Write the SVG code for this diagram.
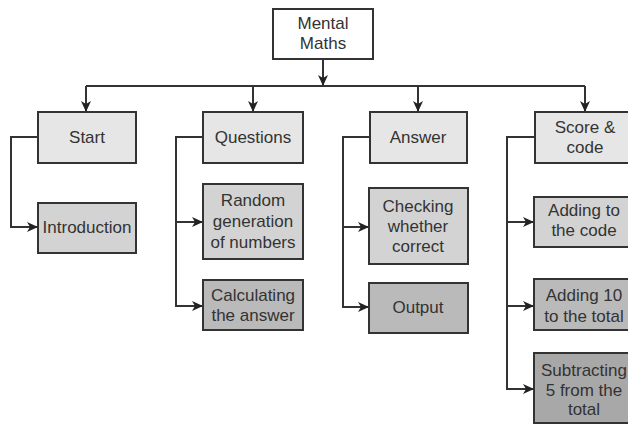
<svg xmlns="http://www.w3.org/2000/svg" width="628" height="424" viewBox="0 0 628 424">
<style>
.box{stroke:#333;stroke-width:2}
.l0{fill:#ffffff}
.l1{fill:#e6e6e6}
.l2{fill:#d3d3d3}
.l3{fill:#bababa}
.l4{fill:#a8a8a8}
text{font-family:"Liberation Sans",Arial,sans-serif;font-size:17px;fill:#333;text-anchor:middle}
.c{fill:none;stroke:#333;stroke-width:2}
</style>
<defs>
<marker id="ah" markerWidth="11" markerHeight="10" refX="10" refY="5" orient="auto" markerUnits="userSpaceOnUse">
<path d="M0,0 L11,5 L0,10 L3,5 z" fill="#222"/>
</marker>
</defs>
<rect width="628" height="424" fill="#fff"/>
<g id="connectors">
<path class="c" d="M323,59 V85" marker-end="url(#ah)"/>
<path class="c" d="M86,86 H585"/>
<path class="c" d="M86,86 V111" marker-end="url(#ah)"/>
<path class="c" d="M253,86 V111" marker-end="url(#ah)"/>
<path class="c" d="M418,86 V111" marker-end="url(#ah)"/>
<path class="c" d="M585,86 V111" marker-end="url(#ah)"/>
<path class="c" d="M38,137 H11 V227 H37" marker-end="url(#ah)"/>
<path class="c" d="M203,137 H176 V306 H202" marker-end="url(#ah)"/>
<path class="c" d="M176,222 H202" marker-end="url(#ah)"/>
<path class="c" d="M370,137 H343 V307 H368" marker-end="url(#ah)"/>
<path class="c" d="M343,227 H368" marker-end="url(#ah)"/>
<path class="c" d="M535,137 H507 V389 H533" marker-end="url(#ah)"/>
<path class="c" d="M507,222 H533" marker-end="url(#ah)"/>
<path class="c" d="M507,306 H533" marker-end="url(#ah)"/>
</g>
<g id="mental-maths"><rect class="box l0" x="273" y="9" width="100" height="50"/><text x="323" y="29">Mental</text><text x="323" y="49">Maths</text></g>
<g id="start"><rect class="box l1" x="38" y="112" width="98" height="51"/><text x="87" y="143">Start</text></g>
<g id="questions"><rect class="box l1" x="203" y="112" width="100" height="51"/><text x="253" y="143">Questions</text></g>
<g id="answer"><rect class="box l1" x="370" y="112" width="97" height="51"/><text x="418" y="143">Answer</text></g>
<g id="score-code"><rect class="box l1" x="535" y="112" width="100" height="51"/><text x="585" y="133">Score &amp;</text><text x="585" y="153">code</text></g>
<g id="introduction"><rect class="box l2" x="38" y="203" width="98" height="50"/><text x="87" y="233">Introduction</text></g>
<g id="random"><rect class="box l2" x="203" y="184" width="100" height="75"/><text x="253" y="206">Random</text><text x="253" y="227">generation</text><text x="253" y="248">of numbers</text></g>
<g id="calculating"><rect class="box l3" x="203" y="280" width="100" height="50"/><text x="253" y="301">Calculating</text><text x="253" y="321">the answer</text></g>
<g id="checking"><rect class="box l2" x="369" y="188" width="99" height="76"/><text x="418" y="212">Checking</text><text x="418" y="232">whether</text><text x="418" y="252">correct</text></g>
<g id="output"><rect class="box l3" x="369" y="283" width="99" height="50"/><text x="418" y="313">Output</text></g>
<g id="adding-code"><rect class="box l2" x="534" y="197" width="100" height="50"/><text x="584" y="216">Adding to</text><text x="584" y="236">the code</text></g>
<g id="adding-10"><rect class="box l3" x="534" y="279" width="100" height="51"/><text x="584" y="301">Adding 10</text><text x="584" y="322">to the total</text></g>
<g id="subtracting"><rect class="box l4" x="534" y="353" width="100" height="70"/><text x="584" y="376">Subtracting</text><text x="584" y="396">5 from the</text><text x="584" y="415">total</text></g>
</svg>
